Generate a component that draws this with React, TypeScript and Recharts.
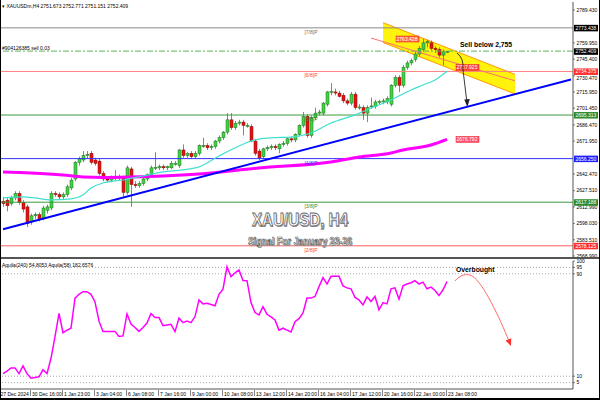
import React from 'react';
import { ComposedChart, Bar, Line, Area, XAxis, YAxis, ReferenceLine, ReferenceDot } from 'recharts';

const FONT = '"Liberation Sans", Arial, sans-serif';
const SLOTS = 143;

// H4 candles, 27 Dec 2024 -> 23 Jan 2025 08:00
const opens = [
  2618, 2619, 2616, 2621, 2625, 2617, 2613, 2600, 2605, 2606, 2603, 2610, 2612, 2625, 2624, 2622,
  2624, 2630, 2638, 2653, 2655, 2659, 2661, 2655, 2654, 2643, 2638, 2637, 2639, 2640, 2639, 2626,
  2647, 2633, 2632, 2634, 2638, 2642, 2648, 2648, 2649, 2648, 2648, 2652, 2650, 2664, 2659, 2661,
  2658, 2661, 2668, 2668, 2666, 2667, 2672, 2675, 2680, 2691, 2684, 2688, 2689, 2686, 2685, 2672,
  2663, 2658, 2665, 2666, 2667, 2665, 2669, 2670, 2674, 2673, 2678, 2686, 2694, 2677, 2693, 2697,
  2697, 2705, 2716, 2716, 2715, 2713, 2708, 2706, 2714, 2702, 2702, 2697, 2703, 2703, 2707, 2707,
  2707, 2705, 2722, 2729, 2722, 2738, 2742, 2745, 2750, 2754, 2760, 2760, 2755, 2754, 2749, 2751.673,
];
const highs = [
  2622, 2621, 2623, 2627, 2627, 2619, 2615, 2607, 2608, 2608, 2614, 2615, 2627, 2627, 2626, 2626,
  2633, 2639, 2654, 2658, 2663, 2663, 2663, 2657, 2656, 2645, 2640, 2641, 2646, 2642, 2641, 2650,
  2649, 2636, 2636, 2639, 2643, 2650, 2662, 2651, 2651, 2650, 2654, 2654, 2665, 2669, 2662, 2663,
  2663, 2669, 2675, 2670, 2669, 2673, 2677, 2681, 2697, 2697, 2690, 2691, 2691, 2688, 2687, 2674,
  2665, 2666, 2668, 2669, 2669, 2670, 2672, 2675, 2676, 2679, 2687, 2698, 2696, 2695, 2702, 2700,
  2707, 2717, 2724, 2719, 2717, 2715, 2710, 2716, 2716, 2705, 2704, 2704, 2711, 2709, 2709, 2710,
  2712, 2723, 2731, 2731, 2740, 2744, 2746, 2752, 2757, 2763.4, 2763, 2762, 2757, 2756, 2754, 2752.771,
];
const lows = [
  2613, 2609, 2614, 2619, 2615, 2608, 2595, 2597, 2602, 2600, 2601, 2607, 2610, 2622, 2620, 2620,
  2622, 2628, 2636, 2650, 2653, 2656, 2651, 2650, 2641, 2636, 2635, 2635, 2637, 2637, 2622, 2624,
  2613, 2630, 2630, 2632, 2636, 2640, 2646, 2646, 2646, 2646, 2647, 2650, 2648, 2657, 2657, 2656,
  2656, 2659, 2666, 2664, 2664, 2665, 2670, 2673, 2678, 2682, 2682, 2686, 2677, 2684, 2671, 2659,
  2655, 2656, 2663, 2664, 2664, 2661, 2667, 2668, 2671, 2671, 2676, 2684, 2675, 2675, 2691, 2695,
  2695, 2703, 2713, 2713, 2711, 2706, 2704, 2704, 2700, 2700, 2691, 2689, 2701, 2701, 2705, 2705,
  2705, 2703, 2720, 2716, 2720, 2736, 2740, 2743, 2748, 2752, 2756, 2753, 2751, 2747, 2740, 2751.151,
];
const closes = [
  2616, 2614, 2621, 2625, 2617, 2611, 2598, 2605, 2606, 2602, 2612, 2613, 2625, 2624, 2622, 2624,
  2631, 2637, 2653, 2656, 2659, 2660, 2653, 2652, 2643, 2638, 2637, 2639, 2640, 2639, 2626, 2648,
  2633, 2632, 2634, 2638, 2642, 2648, 2648.5, 2649, 2648, 2649, 2652, 2652, 2664, 2659, 2661, 2658,
  2661, 2668, 2668, 2666, 2667, 2672, 2675, 2680, 2691, 2684, 2688, 2689, 2686, 2686, 2672, 2661,
  2657, 2665, 2666, 2667, 2666, 2669, 2670, 2674, 2673, 2678, 2686, 2694, 2677, 2693, 2697, 2698,
  2706, 2716, 2716.5, 2715, 2712, 2708, 2706, 2714, 2702, 2702.5, 2697, 2702, 2703.5, 2707, 2707.5, 2708,
  2710, 2722, 2729, 2722, 2738, 2742, 2744, 2750, 2755, 2760, 2761, 2755, 2754, 2749, 2752, 2752.409,
];

// Aquila oscillator, one value per bar
const aquila = [
  12, 14, 16.5, 16.5, 12, 18, 12, 8.5, 9, 9.5, 15, 12, 24, 41, 59, 44,
  46, 47.5, 71, 74, 76, 76, 74, 68, 53, 45, 45, 45, 45, 41, 41.5, 58.7,
  50.8, 48, 45, 48, 51.5, 59, 55.8, 55.8, 49.5, 50, 50.5, 44.8, 55.5, 51.8, 53, 51.8,
  56.6, 69.6, 66.5, 67, 66, 65, 74, 78, 95.5, 87.7, 90.8, 93, 84.8, 84.6, 67.5, 59.7,
  57.9, 64.4, 58.4, 56.3, 54, 46, 47.5, 46, 44.5, 52.6, 55, 59.4, 71, 71, 72.3, 80,
  87, 82, 88, 88, 88, 80.6, 79, 78.3, 71.5, 69.6, 65.7, 72, 68.3, 72.3, 61.8, 67.5,
  66.5, 78.3, 79, 70.2, 80.6, 82, 83, 84.6, 82, 83.5, 78.3, 79.6, 77, 73, 77.5, 84,
];

// moving averages read at sample bars: [bar, price]
const cyanMa = [
  [0, 2621], [5, 2621.9], [8, 2621], [12, 2619.2], [17, 2620.1], [20, 2623.7], [22, 2630], [25, 2634.4],
  [30, 2637.1], [35, 2640.7], [40, 2644.3], [45, 2646.1], [49, 2648.8], [54, 2658.6], [59, 2667.6],
  [63, 2673], [67, 2674.8], [72, 2675.6], [77, 2679.2], [82, 2688.2], [88, 2695.4], [92, 2701.6],
  [97, 2708.8], [102, 2717.8], [105, 2722.2], [108, 2726.7], [111, 2734.5],
];
const magentaMa = [
  [0, 2644.3], [7, 2643.4], [15, 2641.6], [20, 2639.8], [25, 2639.4], [32, 2639.8], [40, 2640.7],
  [49, 2642.5], [64, 2647.9], [82, 2653.2], [89, 2657.7], [97, 2661.3], [100, 2664], [107, 2668.5], [111, 2673.5],
];

// drawn objects: [bar, price]
const bandEdges = [[95, 2760.3, 2778.1], [128, 2714.2, 2731.7]];
const trendLine = [[0, 2593.0], [142, 2727.2]];
const channelLine = [[92, 2764.3], [128, 2726.0]];
const orderPrice = 2752.6;

const murray = [
  { label: '[7/8]P', price: 2773.438, line: '#8a8a8a', text: '#707070', box: '#000000' },
  { label: '[6/8]P', price: 2734.375, line: '#ff8080', text: '#ff4040', box: '#ff3030' },
  { label: '[5/8]P', price: 2695.313, line: '#3c9a3c', text: '#2e8b2e', box: '#2e8b2e' },
  { label: '[4/8]P', price: 2656.25, line: '#3030ff', text: '#3030ff', box: '#2020ff' },
  { label: '[3/8]P', price: 2617.188, line: '#3c9a3c', text: '#2e8b2e', box: '#2e8b2e' },
  { label: '[2/8]P', price: 2578.125, line: '#ff6060', text: '#ff4040', box: '#ff3030' },
];

const axisPrices = [2789.43, 2759.95, 2745.4, 2730.47, 2715.95, 2701.45, 2686.47, 2671.95, 2642.47, 2627.51, 2612.99, 2598.03, 2583.51, 2568.99];
const axisBoxes = [{ price: 2752.409, color: '#000000' }, ...murray.map((m) => ({ price: m.price, color: m.box }))];
const priceTicks = [...axisPrices, ...axisBoxes.map((b) => b.price)];
const levelTicks = [100, 95, 90, 10, 5];

const dateTicks = [0, 7, 15, 23, 31, 39, 47, 55, 63, 71, 79, 87, 95, 103, 111];
const dateLabels = [
  '27 Dec 2024', '30 Dec 16:00', '1 Jan 23:00', '3 Jan 04:00', '6 Jan 08:00', '7 Jan 16:00', '9 Jan 00:00',
  '10 Jan 08:00', '13 Jan 12:00', '14 Jan 20:00', '16 Jan 04:00', '17 Jan 12:00', '20 Jan 16:00', '22 Jan 00:00', '23 Jan 08:00',
];

const cyanMap = new Map(cyanMa.map(([i, v]) => [i, v]));
const magMap = new Map(magentaMa.map(([i, v]) => [i, v]));
const bandMap = new Map(bandEdges.map(([i, lo, hi]) => [i, [lo, hi]]));

const rows = Array.from({ length: SLOTS }, (_, i) => ({
  i,
  candle: i < opens.length ? [lows[i], highs[i]] : null,
  o: opens[i],
  h: highs[i],
  l: lows[i],
  c: closes[i],
  aq: i < aquila.length ? aquila[i] : null,
  cyan: cyanMap.get(i) ?? null,
  mag: magMap.get(i) ?? null,
  band: bandMap.get(i) ?? null,
}));

const Candle = (props: any) => {
  const { x, y, width, height, payload } = props;
  if (!payload || payload.candle == null) return null;
  const { o, h, l, c } = payload;
  const top = Math.min(y, y + height);
  const span = Math.abs(height);
  const py = (v: number) => (h === l ? top : top + ((h - v) / (h - l)) * span);
  const up = c >= o;
  const yo = py(o);
  const yc = py(c);
  const bTop = Math.min(yo, yc);
  const bH = Math.max(1, Math.abs(yo - yc));
  const cx = x + width / 2;
  return (
    <g>
      <line x1={cx} x2={cx} y1={top} y2={top + span} stroke="#666" strokeWidth={0.8} />
      <rect x={x} y={bTop} width={width} height={bH} fill={up ? '#3fd43f' : '#e81010'} stroke={up ? '#2a6a2a' : '#7a1010'} strokeWidth={0.5} />
    </g>
  );
};

const PriceTick = ({ x, y, payload }: any) => {
  const v = payload.value;
  const box = axisBoxes.find((b) => Math.abs(b.price - v) < 1e-6);
  if (box) {
    return (
      <g>
        <rect x={x + 1} y={y - 3} width={24} height={6.5} fill={box.color} />
        <text x={x + 2.5} y={y + 2} fontSize={5} fontFamily={FONT} fill="#fff">{v.toFixed(3)}</text>
      </g>
    );
  }
  const dy = Math.abs(v - 2730.47) < 1e-6 ? 2.5 : 0;
  return (
    <g>
      <line x1={x} x2={x + 2} y1={y} y2={y} stroke="#333" strokeWidth={0.6} />
      <text x={x + 3.5} y={y + 1.8 + dy} fontSize={5} fontFamily={FONT} fill="#000">{v.toFixed(3)}</text>
    </g>
  );
};

const LevelTick = ({ x, y, payload }: any) => (
  <g>
    <line x1={x} x2={x + 2} y1={y} y2={y} stroke="#333" strokeWidth={0.6} />
    <text x={x + 3.5} y={y + 1.8} fontSize={5} fontFamily={FONT} fill="#000">{payload.value}</text>
  </g>
);

const DateTick = ({ x, y, payload }: any) => {
  const k = dateTicks.indexOf(payload.value);
  if (k < 0) return null;
  return (
    <g>
      {k > 0 && <line x1={x - 0.5} x2={x - 0.5} y1={y + 1} y2={y + 7} stroke="#333" strokeWidth={0.6} />}
      <text x={k === 0 ? x - 2.5 : x + 1} y={y + 7} fontSize={5} fontFamily={FONT} fill="#000">{dateLabels[k]}</text>
    </g>
  );
};

const priceBox = (text: string, fill: string) => (p: any) => (
  <g>
    <rect x={p.cx - 11} y={p.cy - 3} width={23} height={6} fill={fill} stroke="#e02020" strokeWidth={0.5} />
    <text x={p.cx} y={p.cy + 1.8} textAnchor="middle" fontSize={5} fontFamily={FONT} fill="#fff">{text}</text>
  </g>
);

const boldText = (text: string) => (p: any) => (
  <text x={p.cx + 1} y={p.cy} fontSize={6.8} fontWeight="bold" fontFamily={FONT} fill="#000">{text}</text>
);

const SellArrow = (p: any) => (
  <g>
    <path d={`M${p.cx + 2},${p.cy} Q${p.cx + 9},${p.cy + 5} ${p.cx + 8},${p.cy + 17} L${p.cx + 12},${p.cy + 50}`} fill="none" stroke="#222" strokeWidth={0.9} />
    <path d={`M${p.cx + 12.3},${p.cy + 54} L${p.cx + 9.3},${p.cy + 46.5} L${p.cx + 14.8},${p.cy + 46} Z`} fill="#222" />
  </g>
);

const DropArrow = (p: any) => (
  <g>
    <path d={`M${p.cx},${p.cy} C${p.cx + 5},${p.cy - 6} ${p.cx + 11},${p.cy - 8} ${p.cx + 17},${p.cy - 5} C${p.cx + 28},${p.cy + 1} ${p.cx + 45},${p.cy + 38} ${p.cx + 54},${p.cy + 60}`} fill="none" stroke="#ff6a6a" strokeWidth={1} />
    <path d={`M${p.cx + 56},${p.cy + 65} L${p.cx + 50.6},${p.cy + 59.6} L${p.cx + 56.2},${p.cy + 57.4} Z`} fill="#ff3030" />
  </g>
);

export default function App() {
  return (
    <div style={{ position: 'absolute', left: 0, top: 0, width: 600, height: 400, boxSizing: 'border-box', borderLeft: '1px solid #000', borderRight: '1px solid #000', borderBottom: '2px solid #000', background: '#fff', overflow: 'hidden' }}>
      <div style={{ position: 'absolute', left: 0, top: 0 }}>
        <ComposedChart width={598} height={260} data={rows} margin={{ top: 2, right: 0, bottom: 1, left: 0 }}>
          <XAxis dataKey="i" type="category" scale="band" hide />
          <YAxis orientation="right" width={26} type="number" domain={[2566.3, 2796.6]} allowDataOverflow ticks={priceTicks} interval={0} tickSize={0} tickMargin={0} tickLine={false} axisLine={{ stroke: '#555' }} tick={<PriceTick />} />
          {murray.map((m) => (
            <ReferenceLine key={m.label} y={m.price} stroke={m.line} strokeWidth={1} />
          ))}
          <ReferenceLine y={orderPrice} stroke="#5cb85c" strokeDasharray="6 2 2 2" />
          <Area dataKey="band" type="linear" connectNulls fill="#fff200" fillOpacity={0.95} stroke="#ff9900" strokeWidth={1} dot={false} activeDot={false} isAnimationActive={false} />
          <ReferenceLine segment={channelLine.map(([x, y]) => ({ x, y }))} stroke="#ff7070" strokeWidth={1} />
          <Line dataKey="mag" type="monotone" connectNulls stroke="#ff00ff" strokeWidth={3} dot={false} activeDot={false} isAnimationActive={false} />
          <Line dataKey="cyan" type="monotone" connectNulls stroke="#40e0d0" strokeWidth={1.2} dot={false} activeDot={false} isAnimationActive={false} />
          <ReferenceLine segment={trendLine.map(([x, y]) => ({ x, y }))} stroke="#0000ff" strokeWidth={2} />
          <Bar dataKey="candle" barSize={3} isAnimationActive={false} shape={(p: any) => <Candle {...p} />} />
          {murray.map((m) => (
            <ReferenceDot key={`l${m.label}`} x={77} y={m.price} shape={(p: any) => (
              <text x={p.cx} y={p.cy + 6} textAnchor="middle" fontSize={5} fontFamily={FONT} fill={m.text}>{m.label}</text>
            )} />
          ))}
          <ReferenceDot x={101} y={2763.428} shape={priceBox('2763.428', '#ff6a3a')} />
          <ReferenceDot x={116} y={2737.9} shape={priceBox('2737.925', '#ff4040')} />
          <ReferenceDot x={116} y={2673.5} shape={priceBox('2676.792', '#ff5070')} />
          <ReferenceDot x={114} y={2756.3} shape={boldText('Sell below 2,755')} />
          <ReferenceDot x={113} y={2750.9} shape={SellArrow} />
        </ComposedChart>
      </div>
      <div style={{ position: 'absolute', left: 0, top: 257, width: 598, height: 2, background: '#555' }} />
      <div style={{ position: 'absolute', left: 0, top: 259 }}>
        <ComposedChart width={598} height={139} data={rows} margin={{ top: 2, right: 0, bottom: 0, left: 0 }}>
          <XAxis dataKey="i" type="category" scale="band" ticks={dateTicks} interval={0} height={9} tickSize={0} tickMargin={0} tickLine={false} axisLine={{ stroke: '#555' }} tick={<DateTick />} />
          <YAxis orientation="right" width={26} type="number" domain={[0, 100]} ticks={levelTicks} interval={0} tickSize={0} tickMargin={0} tickLine={false} axisLine={{ stroke: '#555' }} tick={<LevelTick />} />
          {levelTicks.filter((v) => v !== 100).map((v) => (
            <ReferenceLine key={v} y={v} stroke="#aaa" strokeDasharray="1 2" />
          ))}
          <Line dataKey="aq" type="linear" stroke="#ff00ff" strokeWidth={1.5} dot={false} activeDot={false} isAnimationActive={false} />
          <ReferenceDot x={113} y={84.4} shape={DropArrow} />
          <ReferenceDot x={113} y={91.4} shape={boldText('Overbought')} />
        </ComposedChart>
      </div>
      <svg width={598} height={398} style={{ position: 'absolute', left: 0, top: 0, pointerEvents: 'none' }}>
        <text x={1} y={8} fontSize={5} fontFamily={FONT} fill="#000">▾ XAUUSDm,H4  2751.673 2752.771 2751.151 2752.409</text>
        <text x={1} y={50} fontSize={5} fontFamily={FONT} fill="#000">#904126385 sell 0.03</text>
        <text x={1} y={267} fontSize={5} fontFamily={FONT} fill="#000">Aquila(240) 54.8053  Aquila(58) 182.6576</text>
        <g fontFamily={FONT} fontWeight="bold" textAnchor="middle">
          <text x={300} y={227} fontSize={18} textLength={96} lengthAdjust="spacingAndGlyphs" fill="#999">XAU/USD, H4</text>
          <text x={299} y={226} fontSize={18} textLength={96} lengthAdjust="spacingAndGlyphs" fill="#fff" stroke="#666" strokeWidth={0.8}>XAU/USD, H4</text>
          <text x={300} y={245.5} fontSize={10} textLength={104} lengthAdjust="spacingAndGlyphs" fill="#999">Signal For January 23-26</text>
          <text x={299} y={244.5} fontSize={10} textLength={104} lengthAdjust="spacingAndGlyphs" fill="#fff" stroke="#555" strokeWidth={0.6}>Signal For January 23-26</text>
        </g>
      </svg>
    </div>
  );
}
